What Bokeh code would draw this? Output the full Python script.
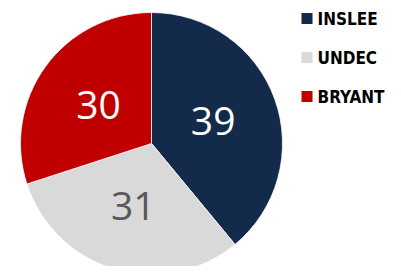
import math
from bokeh.plotting import figure
from bokeh.models import ColumnDataSource, Range1d
from bokeh.core.properties import value
from bokeh.embed import file_html
from bokeh.resources import INLINE

# data
categories = ["INSLEE", "UNDEC", "BRYANT"]
values = [39, 31, 30]
colors = ["#132A4A", "#D9D9D9", "#C00000"]
label_colors = ["#FFFFFF", "#595959", "#FFFFFF"]

W, H = 393, 266
p = figure(width=W, height=H, output_backend="svg", toolbar_location=None,
           x_range=Range1d(0, W), y_range=Range1d(0, H), min_border=0)
p.axis.visible = False
p.grid.visible = False
p.outline_line_color = None
p.background_fill_color = "white"
p.border_fill_color = "white"

# reference pixel layout mapped onto the figure (y flipped)
cx, cy, R = 151, H - 143, 131
total = sum(values)
starts, ends, lx, ly = [], [], [], []
cum = 0
for v in values:
    a0 = math.pi / 2 - 2 * math.pi * cum / total
    cum += v
    a1 = math.pi / 2 - 2 * math.pi * cum / total
    starts.append(a0)
    ends.append(a1)
    mid = (a0 + a1) / 2
    lx.append(cx + 0.5 * R * math.cos(mid))
    ly.append(cy + 0.5 * R * math.sin(mid))

src = ColumnDataSource(dict(start=starts, end=ends, color=colors, x=[cx] * 3, y=[cy] * 3,
                            lx=lx, ly=ly, txt=[str(v) for v in values], tc=label_colors))
p.wedge(x="x", y="y", radius=R, radius_units="screen", start_angle="start", end_angle="end",
        direction="clock", fill_color="color", line_color="white", line_width=0.75, source=src)
p.text(x="lx", y="ly", text="txt", text_color="tc", text_font=value("Open Sans"),
       text_font_size="39px", text_align="center", text_baseline="middle", source=src)

# legend
leg_top = H - 18
step = 39
sq_y = [leg_top - i * step for i in range(len(categories))]
lsrc = ColumnDataSource(dict(x=[306.5] * 3, y=sq_y, tx=[317] * 3, name=categories, color=colors))
p.scatter(x="x", y="y", marker="square", size=11, fill_color="color", line_color=None, source=lsrc)
p.text(x="tx", y="y", text="name", text_font=value("DejaVu Sans Condensed"), text_font_style="bold",
       text_font_size="17px", text_color="#000000", text_baseline="middle", source=lsrc)

open("out.html", "w").write(file_html(p, INLINE))
